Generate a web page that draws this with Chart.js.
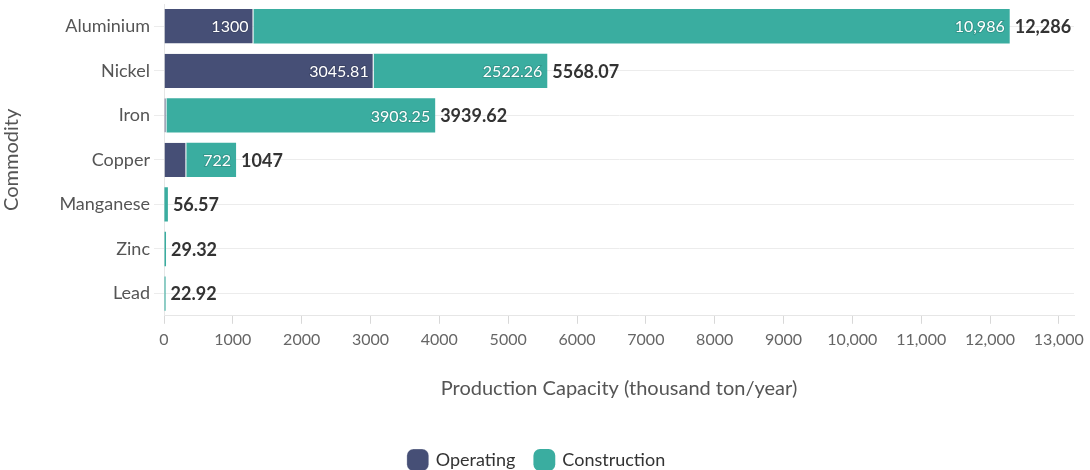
<!DOCTYPE html>
<html><head><meta charset="utf-8">
<script src="https://cdn.jsdelivr.net/npm/chart.js@4"></script>
<style>html,body{margin:0;padding:0;background:#fff}#wrap{width:1090px;height:470px}</style>
</head><body><div id="wrap"><canvas id="c"></canvas></div>
<script>
const categories = ["Aluminium","Nickel","Iron","Copper","Manganese","Zinc","Lead"];
const operating = [1300, 3045.81, 36.37, 325, 6, 0, 0];
const construction = [10986, 2522.26, 3903.25, 722, 50.57, 29.32, 22.92];
const totals = [12286, 5568.07, 3939.62, 1047, 56.57, 29.32, 22.92];
const xTicks = [0,1000,2000,3000,4000,5000,6000,7000,8000,9000,10000,11000,12000,13000];

const FONT = "Lato, 'Open Sans', sans-serif";
function fmt(v){
  if (Math.abs(v) >= 10000) return Math.round(v).toLocaleString('en-US');
  return String(v);
}
const labelPlugin = {
  id:'labels',
  afterDatasetsDraw(chart){
    const ctx = chart.ctx;
    ctx.save();
    ctx.textBaseline='middle';
    chart.data.datasets.forEach((ds,di)=>{
      const meta = chart.getDatasetMeta(di);
      meta.data.forEach((el,i)=>{
        const v = ds.data[i];
        if(!v) return;
        const txt = fmt(v);
        ctx.font = "16px "+FONT;
        const w = ctx.measureText(txt).width;
        const bw = Math.abs(el.x - el.base);
        if (w + 10 < bw){
          ctx.textAlign='right';
          ctx.lineWidth=2; ctx.strokeStyle='rgba(0,0,0,0.12)';
          ctx.strokeText(txt, el.x-5, el.y+1);
          ctx.fillStyle='#fff';
          ctx.fillText(txt, el.x-5, el.y+1);
        }
      });
    });
    const last = chart.getDatasetMeta(1);
    last.data.forEach((el,i)=>{
      ctx.font = "bold 18px "+FONT;
      ctx.textAlign='left';
      ctx.fillStyle='#333';
      ctx.fillText(fmt(totals[i]), Math.max(el.x, chart.getDatasetMeta(0).data[i].x)+5, el.y+1);
    });
    ctx.restore();
  }
};
new Chart(document.getElementById('c'),{
  type:'bar',
  data:{labels:categories,datasets:[
    {label:'Operating',data:operating,backgroundColor:'#464f76',borderColor:'#ffffff',borderWidth:{right:1,left:0,top:0,bottom:0},borderSkipped:false,barPercentage:0.77,categoryPercentage:1},
    {label:'Construction',data:construction,backgroundColor:'#3aada0',borderColor:'#ffffff',borderWidth:0,barPercentage:0.77,categoryPercentage:1}
  ]},
  options:{
    indexAxis:'y',responsive:true,maintainAspectRatio:false,animation:false,
    layout:{padding:{top:4,right:16,bottom:-9,left:0}},
    plugins:{
      legend:{position:'bottom',labels:{font:{family:FONT,size:18},color:'#333',usePointStyle:true,pointStyle:'rectRounded',boxWidth:20,boxHeight:20,padding:20}},
      tooltip:{enabled:false}
    },
    scales:{
      x:{stacked:true,min:0,max:13220,
        afterBuildTicks(s){s.ticks=xTicks.map(v=>({value:v}));},
        afterFit(s){s.paddingRight=0;s.paddingLeft=0;},
        ticks:{callback:v=>fmt(v),font:{family:FONT,size:16},color:'#666',padding:6,maxRotation:0,autoSkip:false},
        grid:{color:'#d8d8d8',tickLength:8,drawTicks:true,drawOnChartArea:false},border:{color:'#e6e6e6'},
        title:{display:true,text:'Production Capacity (thousand ton/year)',font:{family:FONT,size:20},color:'#555',padding:{top:22,bottom:30}}
      },
      y:{stacked:true,
        afterFit(s){s.width=164;s.paddingTop=0;s.paddingBottom=0;},
        ticks:{font:{family:FONT,size:18},color:'#555',padding:4},
        grid:{color:'#ececec',tickLength:10,offset:false},border:{color:'#e6e6e6'},
        title:{display:true,text:'Commodity',font:{family:FONT,size:20},color:'#555',padding:{top:0,bottom:12}}
      }
    }
  },
  plugins:[labelPlugin]
});
</script></body></html>
